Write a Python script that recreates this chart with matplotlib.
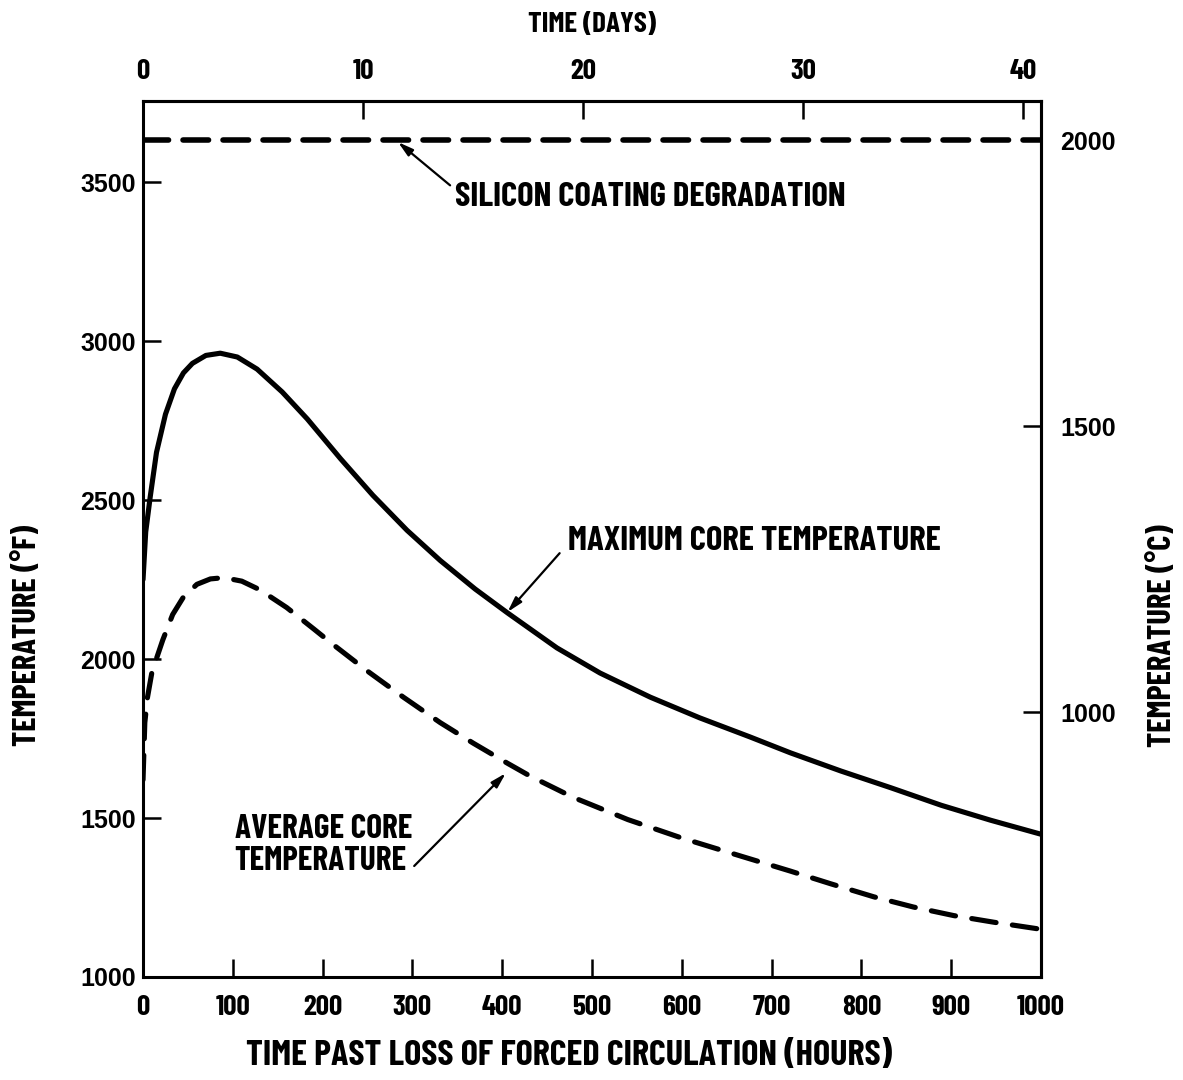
import numpy as np
import matplotlib

matplotlib.use('Agg')
import matplotlib.pyplot as plt

# data
hours_max = [0, 3, 8, 15, 25, 35, 45, 55, 70, 86, 105, 127, 155, 183, 220, 256,
             294, 331, 370, 406, 461, 509, 565, 620, 676, 721, 777, 833, 889, 944, 1000]
temp_max = [2250, 2400, 2510, 2650, 2770, 2850, 2900, 2930, 2955, 2962, 2950, 2912,
            2840, 2755, 2630, 2515, 2405, 2310, 2220, 2145, 2035, 1956, 1880, 1815,
            1755, 1705, 1648, 1595, 1540, 1493, 1449]

hours_avg = [0, 2, 5, 10, 22, 33, 45, 60, 75, 90, 110, 130, 160, 190, 212, 250, 290,
             331, 368, 406, 431, 479, 540, 600, 666, 721, 766, 814, 858, 903, 948, 1000]
temp_avg = [1620, 1800, 1880, 1960, 2060, 2140, 2195, 2235, 2252, 2256, 2245, 2218,
            2162, 2095, 2045, 1962, 1880, 1800, 1735, 1672, 1632, 1565, 1495, 1437,
            1380, 1333, 1293, 1252, 1220, 1193, 1172, 1150]

silicon_c = 2000  # coating degradation limit, deg C
hour_ticks = [0, 100, 200, 300, 400, 500, 600, 700, 800, 900, 1000]
temp_f_ticks = [1000, 1500, 2000, 2500, 3000, 3500]
temp_c_ticks = [1000, 1500, 2000]
day_ticks = [0, 10, 20, 30, 40]

HRS_PER_DAY = 24.5  # top scale as drafted


def f2c(f):
  return (np.asarray(f) - 32) * 5 / 9


def c2f(c):
  return np.asarray(c) * 9 / 5 + 32


# condensed bold lettering, wide bold for the temperature numbers
narrow = dict(family=['Barlow Condensed', 'PT Sans Narrow', 'IBM Plex Sans Condensed',
                      'Liberation Sans'], weight='bold')
wide = dict(family=['Liberation Sans', 'DejaVu Sans'], weight='bold', size=18)

fig = plt.figure(figsize=(11.83, 10.8), dpi=100)
ax = fig.add_axes([0.1209, 0.0954, 0.759, 0.811])

ax.plot(hours_max, temp_max, color='black', lw=3.7, solid_capstyle='round',
        solid_joinstyle='round')
ax.plot(hours_avg, temp_avg, color='black', lw=3.7, dashes=(4.8, 3.2),
        dash_capstyle='round')
ax.plot([0, 1000], [c2f(silicon_c)] * 2, color='black', lw=4, dashes=(4.6, 2.6),
        dash_capstyle='round')

ax.set_xlim(0, 1000)
ax.set_ylim(1000, 3755)

for s in ax.spines.values():
  s.set_linewidth(2.2)

ax.set_xticks(hour_ticks)
ax.set_xticklabels([str(t) for t in hour_ticks], fontsize=21, **narrow)
ax.set_yticks(temp_f_ticks)
ax.set_yticklabels([str(t) for t in temp_f_ticks], **wide)
ax.tick_params(axis='x', direction='in', length=13, width=1.8, pad=13)
ax.tick_params(axis='y', direction='in', length=13, width=1.8, pad=5)

ax.set_xlabel('TIME PAST LOSS OF FORCED CIRCULATION (HOURS)', fontsize=26, **narrow)
ax.xaxis.set_label_coords(0.474, -0.072)
ax.set_ylabel('TEMPERATURE (°F)', fontsize=23.5, **narrow)
ax.yaxis.set_label_coords(-0.113, 0.39)

# top axis in days
top = ax.secondary_xaxis('top', functions=(lambda h: np.asarray(h) / HRS_PER_DAY,
                                            lambda d: np.asarray(d) * HRS_PER_DAY))
top.set_xticks(day_ticks)
top.set_xticklabels([str(t) for t in day_ticks], fontsize=21, **narrow)
top.tick_params(direction='in', length=13, width=1.8, pad=12)
top.set_xlabel('TIME (DAYS)', fontsize=21, labelpad=20, **narrow)
top.spines['top'].set_linewidth(2.2)

# right axis in deg C
right = ax.secondary_yaxis('right', functions=(f2c, c2f))
right.set_yticks(temp_c_ticks)
right.set_yticklabels([str(t) for t in temp_c_ticks], **wide)
right.tick_params(direction='in', length=13, width=1.8, pad=14)
right.set_ylabel('TEMPERATURE (°C)', fontsize=23.5, **narrow)
right.yaxis.set_label_coords(1.119, 0.39, transform=ax.transAxes)
right.spines['right'].set_linewidth(2.2)

arrow = dict(arrowstyle='-|>,head_length=0.9,head_width=0.25', color='black', lw=1.6,
             shrinkA=0, shrinkB=0)
ax.annotate('', xy=(284, 3626), xytext=(342, 3490), arrowprops=arrow)
ax.text(347, 3453, 'SILICON COATING DEGRADATION', fontsize=25, va='center',
        ha='left', **narrow)

ax.annotate('', xy=(406, 2148), xytext=(464, 2333), arrowprops=arrow)
ax.text(473, 2371, 'MAXIMUM CORE TEMPERATURE', fontsize=25, va='center', ha='left',
        **narrow)

ax.annotate('', xy=(404, 1641), xytext=(302, 1349), arrowprops=arrow)
ax.text(102, 1415, 'AVERAGE CORE\nTEMPERATURE', fontsize=24, va='center', ha='left',
        linespacing=1.1, **narrow)

fig.savefig('out.png', dpi=100)
plt.close(fig)
